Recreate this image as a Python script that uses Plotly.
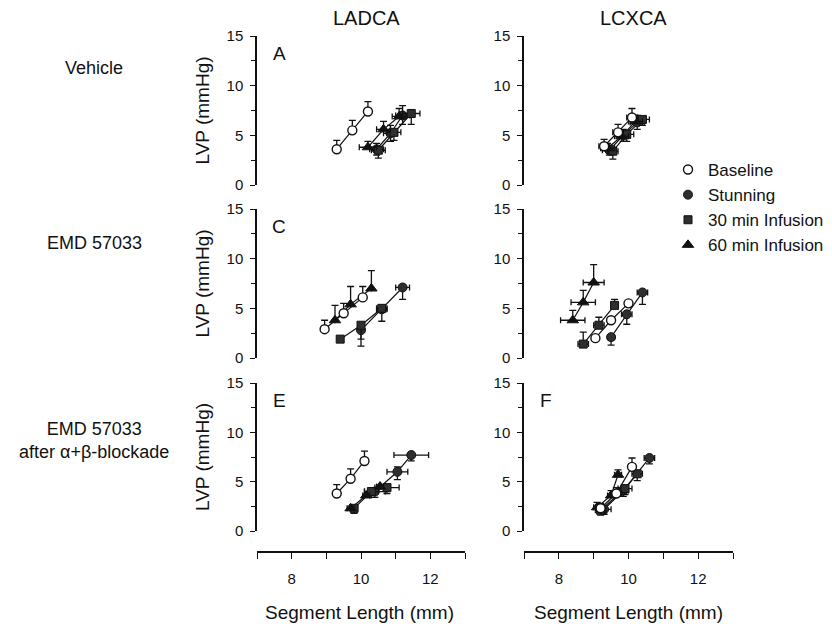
import plotly.graph_objects as go

W, H = 832, 628

series_names = ["Baseline", "Stunning", "30 min Infusion", "60 min Infusion"]
col_titles = ["LADCA", "LCXCA"]
row_titles = ["Vehicle", "EMD 57033", "EMD 57033<br>after \u03b1+\u03b2-blockade"]
panel_letters = ["A", "", "C", "", "E", "F"]
x_ticks = [8, 10, 12]
x_minor = [7, 9, 11, 13]
y_ticks = [0, 5, 10, 15]
y_minor = [2.5, 7.5, 12.5]

# order per panel: Baseline, Stunning, 30 min, 60 min
A_x = [[9.3, 9.75, 10.2], [10.45, 10.85, 11.2], [10.5, 10.95, 11.45], [10.2, 10.65, 11.1]]
A_y = [[3.6, 5.5, 7.4], [3.6, 5.2, 7.0], [3.5, 5.3, 7.2], [3.8, 5.6, 6.9]]
A_up = [[0.9, 1.0, 1.0], [0.6, 0.8, 1.0], [0, 0, 0], [0.6, 0.8, 0.8]]
A_dn = [[0, 0, 0], [0.6, 0.8, 0.9], [0.8, 0.8, 1.1], [0, 0, 0]]
A_ex = [[0, 0, 0], [0.2, 0.2, 0.2], [0.2, 0.2, 0.25], [0.25, 0.2, 0.2]]

B_x = [[9.3, 9.7, 10.1], [9.45, 9.85, 10.25], [9.55, 9.95, 10.4], [9.4, 9.8, 10.2]]
B_y = [[3.9, 5.3, 6.8], [3.5, 5.0, 6.3], [3.4, 5.1, 6.6], [3.7, 4.9, 6.4]]
B_up = [[0.7, 0.8, 0.9], [0.5, 0.6, 0.7], [0, 0, 0], [0.5, 0.6, 0.6]]
B_dn = [[0, 0, 0], [0.5, 0.6, 0.7], [0.8, 0.7, 0.6], [0, 0, 0]]
B_ex = [[0.15, 0.15, 0.15], [0.2, 0.2, 0.2], [0.15, 0.2, 0.2], [0.2, 0.2, 0.2]]

C_x = [[8.95, 9.5, 10.05], [10.0, 10.6, 11.2], [9.4, 10.0, 10.6], [9.25, 9.7, 10.3]]
C_y = [[2.9, 4.5, 6.1], [2.8, 4.9, 7.1], [1.9, 3.3, 5.0], [3.8, 5.4, 7.0]]
C_up = [[0.9, 1.0, 1.1], [0, 0, 0], [0, 0, 0], [1.5, 1.8, 1.8]]
C_dn = [[0, 0, 0], [1.6, 1.2, 1.2], [0, 1.4, 0], [0, 0, 0]]
C_ex = [[0, 0, 0], [0, 0.15, 0.2], [0, 0, 0.15], [0, 0, 0]]

D_x = [[9.05, 9.5, 10.0], [9.5, 9.95, 10.4], [8.7, 9.15, 9.6], [8.4, 8.7, 9.0]]
D_y = [[2.0, 3.8, 5.5], [2.1, 4.4, 6.6], [1.4, 3.3, 5.3], [3.8, 5.6, 7.6]]
D_up = [[0, 0, 0], [0, 0, 0], [1.2, 0.8, 0.6], [1.0, 1.2, 1.8]]
D_dn = [[0, 0, 0], [0.8, 1.0, 1.2], [0, 0, 0], [0, 0, 0]]
D_ex = [[0, 0, 0], [0.1, 0.15, 0.15], [0.15, 0.15, 0.1], [0.35, 0.35, 0.3]]

E_x = [[9.3, 9.7, 10.1], [10.4, 11.05, 11.45], [9.8, 10.3, 10.75], [9.7, 10.15, 10.55]]
E_y = [[3.8, 5.3, 7.1], [4.0, 6.0, 7.7], [2.3, 4.0, 4.4], [2.3, 3.6, 4.5]]
E_up = [[0.9, 1.0, 1.0], [0, 0.5, 0], [0, 0, 0], [0, 0, 0]]
E_dn = [[0, 0, 0], [0.6, 0.8, 0.6], [0.5, 0.6, 0.6], [0, 0, 0]]
E_ex = [[0, 0, 0], [0.3, 0.3, 0.5], [0.1, 0.2, 0.35], [0.1, 0.1, 0.1]]

F_x = [[9.2, 9.65, 10.1], [9.3, 9.85, 10.6], [9.2, 9.9, 10.25], [9.1, 9.5, 9.7]]
F_y = [[2.3, 3.8, 6.5], [2.2, 4.1, 7.4], [2.1, 4.3, 5.8], [2.4, 3.6, 5.7]]
F_up = [[0.5, 0.6, 0.9], [0, 0, 0], [0, 0, 0], [0.5, 0.5, 0.5]]
F_dn = [[0, 0, 0], [0.5, 0.6, 0.6], [0.5, 0.6, 0.7], [0, 0, 0]]
F_ex = [[0.1, 0.15, 0.1], [0.2, 0.15, 0.15], [0.15, 0.2, 0.15], [0.1, 0.1, 0.1]]

panels = [
    (A_x, A_y, A_up, A_dn, A_ex),
    (B_x, B_y, B_up, B_dn, B_ex),
    (C_x, C_y, C_up, C_dn, C_ex),
    (D_x, D_y, D_up, D_dn, D_ex),
    (E_x, E_y, E_up, E_dn, E_ex),
    (F_x, F_y, F_up, F_dn, F_ex),
]

FONT = "Liberation Sans, Arial, sans-serif"
INK = "#111111"

marker_styles = [
    dict(symbol="circle", size=9, color="white", line=dict(color=INK, width=1.4)),
    dict(symbol="circle", size=9, color="#2e2e2e", line=dict(color=INK, width=1)),
    dict(symbol="square", size=8, color="#2e2e2e", line=dict(color=INK, width=1)),
    dict(symbol="triangle-up", size=10, color=INK, line=dict(color=INK, width=1)),
]

def px_x(p):
    return p / W

def py_y(p):
    return 1 - p / H

col_dom = [(257, 465), (524, 733)]
row_dom = [(36, 185), (209, 358), (383, 531)]
xaxis_pos_px = 552

fig = go.Figure()
layout = {}
draw_order = [1, 2, 3, 0]

for i, (px_, py_, up, dn, ex) in enumerate(panels):
    r, c = divmod(i, 2)
    k = i + 1
    xa = "x" if k == 1 else f"x{k}"
    ya = "y" if k == 1 else f"y{k}"
    for s in draw_order:
        fig.add_trace(go.Scatter(
            x=px_[s], y=py_[s], xaxis=xa, yaxis=ya, mode="lines",
            showlegend=False, hoverinfo="skip",
            line=dict(color=INK, width=1.2),
        ))
    for s in draw_order:
        fig.add_trace(go.Scatter(
            x=px_[s], y=py_[s], xaxis=xa, yaxis=ya,
            mode="markers",
            name=series_names[s],
            legendgroup=series_names[s],
            legendrank=s + 1,
            showlegend=(i == 0),
            marker=marker_styles[s],
            error_y=dict(type="data", symmetric=False, array=up[s], arrayminus=dn[s],
                         color=INK, thickness=1.3, width=3.5),
            error_x=dict(type="data", array=ex[s], color=INK, thickness=1.3, width=3),
        ))
    xd = (px_x(col_dom[c][0]), px_x(col_dom[c][1]))
    yd = (py_y(row_dom[r][1]), py_y(row_dom[r][0]))
    bottom = (r == 2)
    xdict = dict(domain=list(xd), range=[7, 13], anchor=ya, showgrid=False, zeroline=False,
                 fixedrange=True)
    if bottom:
        xdict.update(dict(anchor="free", position=py_y(xaxis_pos_px), showline=True,
                          linecolor=INK, linewidth=1.5, ticks="outside", ticklen=6,
                          tickwidth=1.3, tickcolor=INK, tickvals=x_ticks,
                          ticklabelstandoff=7,
                          minor=dict(tickvals=x_minor, ticks="outside", ticklen=6,
                                     tickwidth=1.3, tickcolor=INK),
                          tickfont=dict(family=FONT, size=15, color=INK)))
    else:
        xdict.update(dict(visible=False))
    ydict = dict(domain=list(yd), range=[0, 15], anchor=xa, showgrid=False, zeroline=False,
                 showline=True, linecolor=INK, linewidth=1.5, ticks="outside", ticklen=5,
                 tickwidth=1.3, tickcolor=INK, tickvals=y_ticks, ticklabelstandoff=4,
                 minor=dict(tickvals=y_minor, ticks="outside", ticklen=4,
                            tickwidth=1.2, tickcolor=INK),
                 tickfont=dict(family=FONT, size=15, color=INK), fixedrange=True)
    layout["xaxis" if k == 1 else f"xaxis{k}"] = xdict
    layout["yaxis" if k == 1 else f"yaxis{k}"] = ydict

def note(text, x, y, size, angle=0):
    return dict(text=text, x=px_x(x), y=py_y(y), xref="paper", yref="paper",
                xanchor="center", yanchor="middle", textangle=angle, showarrow=False,
                font=dict(family=FONT, size=size, color=INK))

annotations = []
for c, t in enumerate(col_titles):
    annotations.append(note(t, [366, 633][c], 18, 20))
row_label_y = [68, 243, 440]
for r, t in enumerate(row_titles):
    annotations.append(note(t, 94, row_label_y[r], 18))
    yc = (row_dom[r][0] + row_dom[r][1]) / 2
    annotations.append(note("LVP (mmHg)", 202, yc, 19, -90))
for i, L in enumerate(panel_letters):
    if not L:
        continue
    r, c = divmod(i, 2)
    annotations.append(note(L, col_dom[c][0] + 22, row_dom[r][0] + 17, 19))
for c in range(2):
    annotations.append(note("Segment Length (mm)", [359, 628][c], 612, 19))

fig.update_layout(
    template="none",
    width=W, height=H,
    margin=dict(l=0, r=0, t=0, b=0),
    paper_bgcolor="white", plot_bgcolor="white",
    annotations=annotations,
    showlegend=True,
    legend=dict(x=px_x(668), y=py_y(152), xanchor="left", yanchor="top",
                font=dict(family=FONT, size=17, color=INK), tracegroupgap=0,
                bgcolor="rgba(0,0,0,0)", itemwidth=30, borderwidth=0),
    **layout,
)

fig.write_html("out.html")
